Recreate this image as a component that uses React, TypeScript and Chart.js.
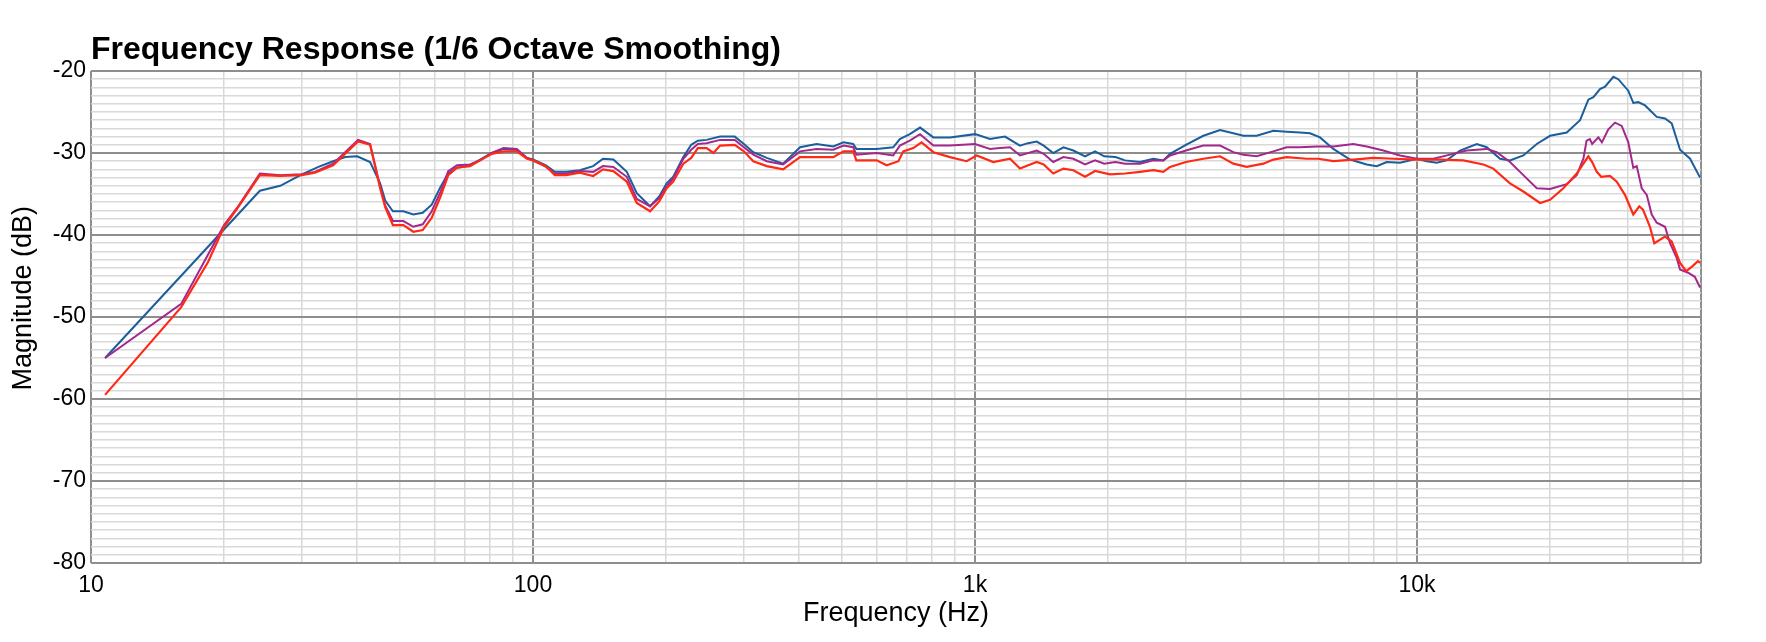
import { useEffect, useRef } from 'react';
import { Chart, registerables } from 'chart.js';

Chart.register(...registerables);

// Frequency (Hz) / magnitude (dB)
const blueFreq = [10.76, 24.1, 26.8, 30, 32.7, 35.3, 37.6, 40, 42.8, 45.1, 46.3, 48.2, 50.9, 53.6, 56.3, 59, 61.8, 64.3, 67.3, 72, 75.9, 80.7, 85.8, 91.9, 96.9, 100, 107, 112, 119, 127.6, 136.8, 144, 152, 163, 171.7, 184, 193, 200.6, 207.6, 218.8, 228, 236, 247, 265, 286, 300, 315, 338, 368, 402, 438, 478, 504, 530, 539, 599, 653, 676, 712, 751, 805, 878, 1000, 1081, 1169, 1264, 1318, 1379, 1430, 1503, 1585, 1669, 1774, 1869, 1960, 2078, 2185, 2362, 2532, 2667, 2762, 3000, 3285, 3584, 3841, 4046, 4337, 4731, 5070, 5436, 5727, 6033, 6466, 7054, 7694, 8106, 8540, 9152, 10000, 10517, 11080, 11670, 12510, 13650, 14380, 15410, 16230, 17400, 18660, 20000, 21810, 23380, 24410, 25060, 25940, 26630, 27810, 28530, 30060, 30850, 31670, 32800, 34860, 36400, 37690, 39360, 41470, 43690];
const blueDb = [-55.0, -34.6, -34.0, -32.6, -31.7, -31.0, -30.5, -30.4, -31.1, -33.7, -35.8, -37.1, -37.1, -37.5, -37.3, -36.3, -34.1, -32.5, -31.8, -31.5, -30.8, -30.0, -29.5, -29.6, -30.6, -30.8, -31.5, -32.3, -32.3, -32.1, -31.6, -30.7, -30.8, -32.3, -34.9, -36.5, -35.3, -33.7, -32.9, -30.5, -29.0, -28.5, -28.4, -28.0, -28.0, -28.9, -29.9, -30.6, -31.3, -29.3, -28.9, -29.2, -28.7, -28.9, -29.5, -29.5, -29.3, -28.3, -27.7, -26.9, -28.1, -28.1, -27.7, -28.3, -28.0, -29.1, -28.8, -28.6, -29.1, -30.0, -29.3, -29.7, -30.4, -29.8, -30.4, -30.5, -30.9, -31.1, -30.7, -30.9, -30.1, -29.0, -27.9, -27.2, -27.6, -27.9, -27.9, -27.3, -27.4, -27.5, -27.6, -28.1, -29.5, -30.8, -31.4, -31.6, -31.1, -31.2, -30.7, -31.0, -31.2, -30.9, -29.7, -28.9, -29.3, -30.7, -30.9, -30.3, -28.9, -27.9, -27.5, -26.0, -23.5, -23.2, -22.2, -21.9, -20.7, -21.0, -22.4, -23.9, -23.8, -24.2, -25.6, -25.8, -26.4, -29.6, -30.7, -33.0];

const purpleFreq = [10.76, 16.0, 20, 21.4, 24.1, 26.8, 30, 32.1, 35.3, 40.2, 42.8, 45.1, 46.3, 48.2, 50.9, 53.6, 56.3, 59, 61.8, 64.3, 67.3, 72, 75.9, 80.7, 85.8, 91.9, 96.9, 100, 107, 112, 119, 127.6, 136.8, 144, 152, 163, 171.7, 184, 193, 200.6, 207.6, 218.8, 228, 236, 247, 265, 286, 300, 315, 338, 368, 402, 438, 478, 504, 530, 539, 599, 653, 676, 712, 751, 805, 878, 1000, 1081, 1139, 1200, 1264, 1379, 1430, 1503, 1585, 1669, 1774, 1869, 1960, 2078, 2185, 2362, 2532, 2667, 2762, 3000, 3285, 3584, 3841, 4046, 4337, 4731, 5070, 5436, 5940, 6466, 7178, 7694, 8390, 9152, 10000, 10890, 11880, 12950, 14380, 15150, 16230, 17400, 18660, 20000, 21810, 22980, 23790, 24190, 24600, 24900, 25720, 26200, 27090, 28050, 29050, 30060, 30850, 31410, 32240, 33090, 33960, 34860, 36400, 37360, 38680, 39360, 41050, 42500, 43690];
const purpleDb = [-55.0, -48.4, -38.8, -36.7, -32.5, -32.7, -32.6, -32.3, -31.3, -28.4, -28.9, -34.1, -36.4, -38.3, -38.3, -39.0, -38.7, -37.1, -34.7, -32.2, -31.5, -31.4, -30.9, -30.0, -29.4, -29.5, -30.6, -30.9, -31.7, -32.5, -32.5, -32.2, -32.3, -31.6, -31.7, -32.9, -35.6, -36.5, -35.5, -34.1, -33.1, -30.7, -29.6, -28.9, -28.8, -28.4, -28.4, -29.3, -30.2, -31.0, -31.4, -29.8, -29.5, -29.6, -29.1, -29.3, -30.2, -30.0, -30.3, -29.1, -28.5, -27.7, -29.1, -29.1, -28.9, -29.5, -29.4, -29.3, -30.3, -29.7, -30.1, -31.1, -30.5, -30.7, -31.4, -30.9, -31.3, -31.1, -31.3, -31.3, -30.9, -30.9, -30.3, -29.7, -29.1, -29.1, -29.9, -30.2, -30.4, -29.8, -29.3, -29.3, -29.2, -29.2, -28.9, -29.2, -29.7, -30.3, -30.7, -30.7, -30.2, -29.7, -29.5, -29.9, -31.1, -32.7, -34.3, -34.4, -33.8, -32.7, -30.7, -28.5, -28.3, -28.9, -28.1, -28.7, -27.1, -26.3, -26.7, -28.7, -31.8, -31.6, -34.3, -35.1, -37.5, -38.5, -39.0, -41.0, -42.8, -44.2, -44.6, -45.1, -46.4];

const redFreq = [10.76, 16.0, 18.4, 20, 21.4, 24.1, 26.8, 30, 32.1, 35.3, 40.2, 42.8, 45.1, 46.3, 48.2, 50.9, 53.6, 56.3, 59, 61.8, 64.3, 67.3, 72, 75.9, 80.7, 85.8, 91.9, 96.9, 100, 107, 112, 119, 127.6, 136.8, 144, 152, 163, 171.7, 184, 193, 200.6, 207.6, 218.8, 228, 236, 247, 256, 265, 286, 300, 315, 338, 368, 402, 438, 478, 504, 530, 539, 599, 631, 671, 688, 725, 757, 805, 878, 957, 1009, 1100, 1200, 1264, 1379, 1430, 1503, 1585, 1669, 1774, 1869, 2020, 2185, 2362, 2532, 2667, 2762, 3000, 3285, 3584, 3841, 4117, 4490, 4731, 5070, 5628, 5980, 6466, 7178, 7966, 8840, 10000, 11270, 12730, 14130, 14880, 16230, 17400, 18980, 20000, 21430, 22980, 23380, 24410, 24900, 25510, 26110, 27330, 28300, 29540, 30850, 31830, 32450, 33650, 34430, 36400, 37690, 39360, 40650, 42010, 43200, 43690];
const redDb = [-59.5, -48.8, -43.3, -39.0, -36.8, -32.7, -32.8, -32.7, -32.4, -31.5, -28.6, -29.0, -34.3, -36.6, -38.8, -38.8, -39.6, -39.4, -37.9, -35.3, -32.7, -31.8, -31.6, -30.9, -30.1, -29.8, -29.8, -30.7, -30.9, -31.6, -32.7, -32.7, -32.4, -32.8, -32.0, -32.2, -33.5, -36.1, -37.1, -35.9, -34.3, -33.5, -31.3, -30.6, -29.4, -29.4, -30.0, -29.1, -29.0, -29.8, -31.0, -31.6, -32.0, -30.5, -30.5, -30.5, -29.8, -29.8, -30.9, -30.9, -31.5, -31.0, -29.8, -29.4, -28.7, -29.9, -30.5, -31.0, -30.3, -31.1, -30.7, -31.9, -31.1, -31.4, -32.5, -31.9, -32.1, -32.9, -32.2, -32.6, -32.5, -32.3, -32.1, -32.3, -31.7, -31.1, -30.7, -30.4, -31.3, -31.7, -31.3, -30.8, -30.5, -30.7, -30.7, -31.0, -30.8, -30.6, -30.7, -30.8, -30.8, -30.9, -31.4, -31.9, -33.7, -34.7, -36.1, -35.7, -34.3, -32.5, -31.9, -30.4, -31.1, -32.3, -32.9, -32.8, -33.5, -35.1, -37.5, -36.5, -36.9, -39.0, -41.0, -40.2, -40.8, -43.4, -44.4, -43.8, -43.2, -43.4];

// axis ticks
const X_MIN = 10;
const X_MAX = 43900;
const xMajorTicks = [10, 100, 1000, 10000];
const xMajorLabels = ['10', '100', '1k', '10k'];
const xMinorSteps = [2, 3, 4, 5, 6, 7, 8, 9];
const Y_MIN = -80;
const Y_MAX = -20;

const FONT = '"Liberation Sans", Arial, Helvetica, sans-serif';
const MAJOR_GRID = '#8e8e8e';
const MINOR_GRID = '#d9d9d9';

const toPoints = (xs: number[], ys: number[]) => xs.map((x, i) => ({ x, y: ys[i] }));

export default function App() {
  const canvasRef = useRef<HTMLCanvasElement | null>(null);

  useEffect(() => {
    document.body.style.margin = '0';
    if (!canvasRef.current) return;
    const ctx = canvasRef.current.getContext('2d');
    if (!ctx) return;

    Chart.defaults.font.family = FONT;

    const xTicks: number[] = [];
    xMajorTicks.forEach((d) => {
      xTicks.push(d);
      xMinorSteps.forEach((m) => {
        if (d * m < X_MAX) xTicks.push(d * m);
      });
    });
    xTicks.push(X_MAX);

    const isMajorX = (v: number) => xMajorTicks.includes(v) || v === X_MAX;
    const isMajorY = (v: number) => v % 10 === 0;

    const chart = new Chart(ctx, {
      type: 'line',
      data: {
        datasets: [
          {
            label: 'red',
            data: toPoints(redFreq, redDb),
            borderColor: '#ff2a16',
            borderWidth: 2.2,
            pointRadius: 0,
            tension: 0,
          },
          {
            label: 'purple',
            data: toPoints(purpleFreq, purpleDb),
            borderColor: '#a4288c',
            borderWidth: 2,
            pointRadius: 0,
            tension: 0,
          },
          {
            label: 'blue',
            data: toPoints(blueFreq, blueDb),
            borderColor: '#1b5e9c',
            borderWidth: 2,
            pointRadius: 0,
            tension: 0,
          },
        ],
      },
      options: {
        responsive: false,
        devicePixelRatio: 1,
        animation: false,
        layout: { padding: { left: 0, right: 65, top: 0, bottom: 0 } },
        plugins: {
          legend: { display: false },
          tooltip: { enabled: false },
          title: {
            display: true,
            text: 'Frequency Response (1/6 Octave Smoothing)',
            align: 'start',
            fullSize: false,
            color: '#000',
            font: { size: 32, weight: 'bold', family: FONT },
            padding: { top: 31, bottom: 1.6 },
          },
        },
        scales: {
          x: {
            type: 'logarithmic',
            min: X_MIN,
            max: X_MAX,
            afterBuildTicks: (scale: any) => {
              scale.ticks = xTicks.map((value) => ({ value }));
            },
            afterFit: (scale: any) => {
              scale.height = 79;
            },
            border: { display: false },
            grid: {
              drawTicks: false,
              color: (c: any) => (isMajorX(c.tick?.value) ? MAJOR_GRID : MINOR_GRID),
              lineWidth: (c: any) => (isMajorX(c.tick?.value) ? 2 : 1.5),
            },
            ticks: {
              autoSkip: false,
              maxRotation: 0,
              padding: 9,
              color: '#000',
              font: { size: 23, family: FONT },
              callback: (value: any) => {
                const i = xMajorTicks.indexOf(Number(value));
                return i >= 0 ? xMajorLabels[i] : '';
              },
            },
            title: {
              display: true,
              text: 'Frequency (Hz)',
              color: '#000',
              font: { size: 27, family: FONT },
              padding: { top: 0, bottom: 12 },
            },
          },
          y: {
            type: 'linear',
            min: Y_MIN,
            max: Y_MAX,
            afterBuildTicks: (scale: any) => {
              const t = [];
              for (let v = Y_MIN; v <= Y_MAX; v += 1) t.push({ value: v });
              scale.ticks = t;
            },
            afterFit: (scale: any) => {
              scale.width = 91;
            },
            border: { display: false },
            grid: {
              drawTicks: false,
              color: (c: any) => (isMajorY(c.tick?.value) ? MAJOR_GRID : MINOR_GRID),
              lineWidth: (c: any) => (isMajorY(c.tick?.value) ? 2 : 1.5),
            },
            ticks: {
              autoSkip: false,
              padding: 5,
              color: '#000',
              font: { size: 23, family: FONT },
              callback: (value: any) => (isMajorY(Number(value)) ? String(value) : ''),
            },
            title: {
              display: true,
              // leading spaces lift the rotated title slightly above the axis centre, as in the reference
              text: '     Magnitude (dB)',
              color: '#000',
              font: { size: 27, family: FONT },
              padding: { top: 7, bottom: 0 },
            },
          },
        },
      },
    });

    return () => {
      chart.destroy();
    };
  }, []);

  return (
    <div style={{ width: 1766, height: 642, background: '#fff' }}>
      <canvas ref={canvasRef} width={1766} height={642} style={{ display: 'block' }}></canvas>
    </div>
  );
}
